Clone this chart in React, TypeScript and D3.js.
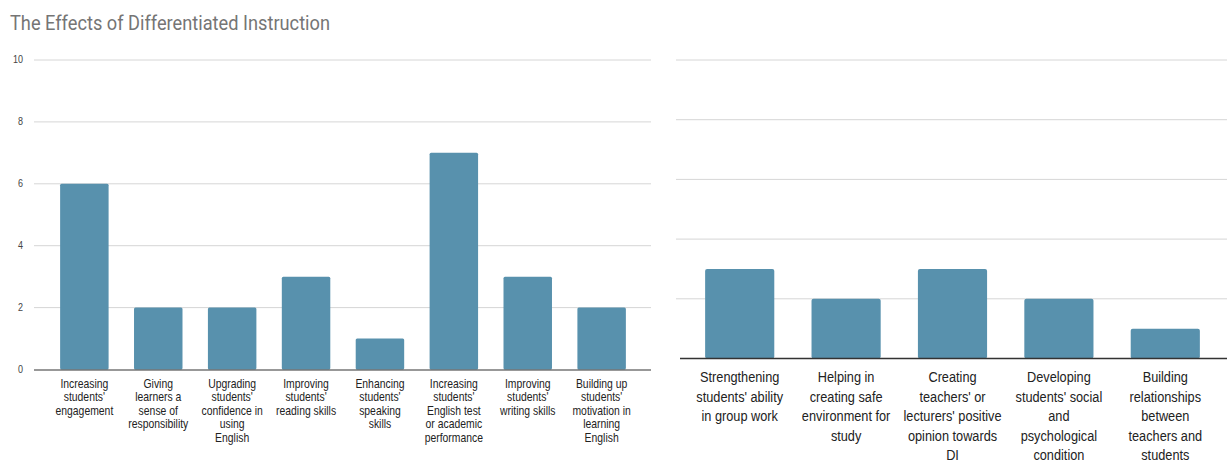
import React from "react";
import * as d3 from "d3";

const title = "The Effects of Differentiated Instruction";

const leftCategories = [
  "Increasing\nstudents'\nengagement",
  "Giving\nlearners a\nsense of\nresponsibility",
  "Upgrading\nstudents'\nconfidence in\nusing\nEnglish",
  "Improving\nstudents'\nreading skills",
  "Enhancing\nstudents'\nspeaking\nskills",
  "Increasing\nstudents'\nEnglish test\nor academic\nperformance",
  "Improving\nstudents'\nwriting skills",
  "Building up\nstudents'\nmotivation in\nlearning\nEnglish",
];
const leftValues = [6, 2, 2, 3, 1, 7, 3, 2];

const rightCategories = [
  "Strengthening\nstudents' ability\nin group work",
  "Helping in\ncreating safe\nenvironment for\nstudy",
  "Creating\nteachers' or\nlecturers' positive\nopinion towards\nDI",
  "Developing\nstudents' social\nand\npsychological\ncondition",
  "Building\nrelationships\nbetween\nteachers and\nstudents",
];
const rightValues = [3, 2, 3, 2, 1];

const yTicks = [0, 2, 4, 6, 8, 10];

const BAR = "#5891ad";
const GRID = "#d6d6d6";
const AXIS = "#333333";
const FONT = "'Liberation Sans', Arial, sans-serif";

export default function App() {
  // Left chart
  const lx = d3
    .scaleBand<string>()
    .domain(leftCategories)
    .range([35, 651])
    .paddingInner(0.344)
    .paddingOuter(0.34);
  const ly = d3.scaleLinear().domain([0, 10]).range([369.5, 60]);

  // Right chart
  const rx = d3
    .scaleBand<string>()
    .domain(rightCategories)
    .range([678, 1227])
    .paddingInner(0.35)
    .paddingOuter(0.255);
  const ry = d3.scaleLinear().domain([0, 10]).range([358.5, 60]);

  return (
    <svg
      width={1227}
      height={461}
      style={{ position: "absolute", left: 0, top: 0, background: "#fff" }}
    >
      <text
        x={10}
        y={30}
        fontFamily="Roboto, sans-serif"
        fontSize={20}
        fill="#757575"
        textLength={320}
        lengthAdjust="spacingAndGlyphs"
      >
        {title}
      </text>

      {/* Left chart gridlines and ticks */}
      {yTicks.map((t) => (
        <g key={"lt" + t}>
          {t !== 0 && (
            <line x1={34} x2={651} y1={ly(t)} y2={ly(t)} stroke={GRID} strokeWidth={1} />
          )}
          <text
            x={23}
            y={ly(t) + 3.5}
            textAnchor="end"
            fontFamily={FONT}
            fontSize={10}
            fill="#444"
            transform={`translate(23,0) scale(0.9,1) translate(-23,0)`}
          >
            {t}
          </text>
        </g>
      ))}

      {leftCategories.map((c, i) => (
        <rect
          key={"lb" + i}
          x={lx(c)}
          y={ly(leftValues[i])}
          width={lx.bandwidth()}
          height={ly(0) - ly(leftValues[i])}
          fill={BAR}
          rx={1.5}
        />
      ))}
      <line x1={34} x2={651} y1={370} y2={370} stroke={AXIS} strokeWidth={1.2} />

      {leftCategories.map((c, i) => {
        const cx = (lx(c) as number) + lx.bandwidth() / 2;
        return (
          <g key={"ll" + i} transform={`translate(${cx},388) scale(0.8,1)`}>
            <text textAnchor="middle" fontFamily={FONT} fontSize={13} fill="#222">
              {c.split("\n").map((ln, j) => (
                <tspan key={j} x={0} y={j * 13.5}>
                  {ln}
                </tspan>
              ))}
            </text>
          </g>
        );
      })}

      {/* Right chart */}
      {yTicks
        .filter((t) => t !== 0)
        .map((t) => (
          <line
            key={"rt" + t}
            x1={676}
            x2={1227}
            y1={ry(t)}
            y2={ry(t)}
            stroke={GRID}
            strokeWidth={1}
          />
        ))}

      {rightCategories.map((c, i) => (
        <rect
          key={"rb" + i}
          x={rx(c)}
          y={ry(rightValues[i])}
          width={rx.bandwidth()}
          height={ry(0) - ry(rightValues[i])}
          fill={BAR}
          rx={2}
        />
      ))}
      <line x1={680} x2={1227} y1={358.5} y2={358.5} stroke={AXIS} strokeWidth={1.5} />

      {rightCategories.map((c, i) => {
        const cx = (rx(c) as number) + rx.bandwidth() / 2;
        return (
          <g key={"rl" + i} transform={`translate(${cx},382) scale(0.85,1)`}>
            <text textAnchor="middle" fontFamily={FONT} fontSize={15} fill="#222">
              {c.split("\n").map((ln, j) => (
                <tspan key={j} x={0} y={j * 19.6}>
                  {ln}
                </tspan>
              ))}
            </text>
          </g>
        );
      })}
    </svg>
  );
}
